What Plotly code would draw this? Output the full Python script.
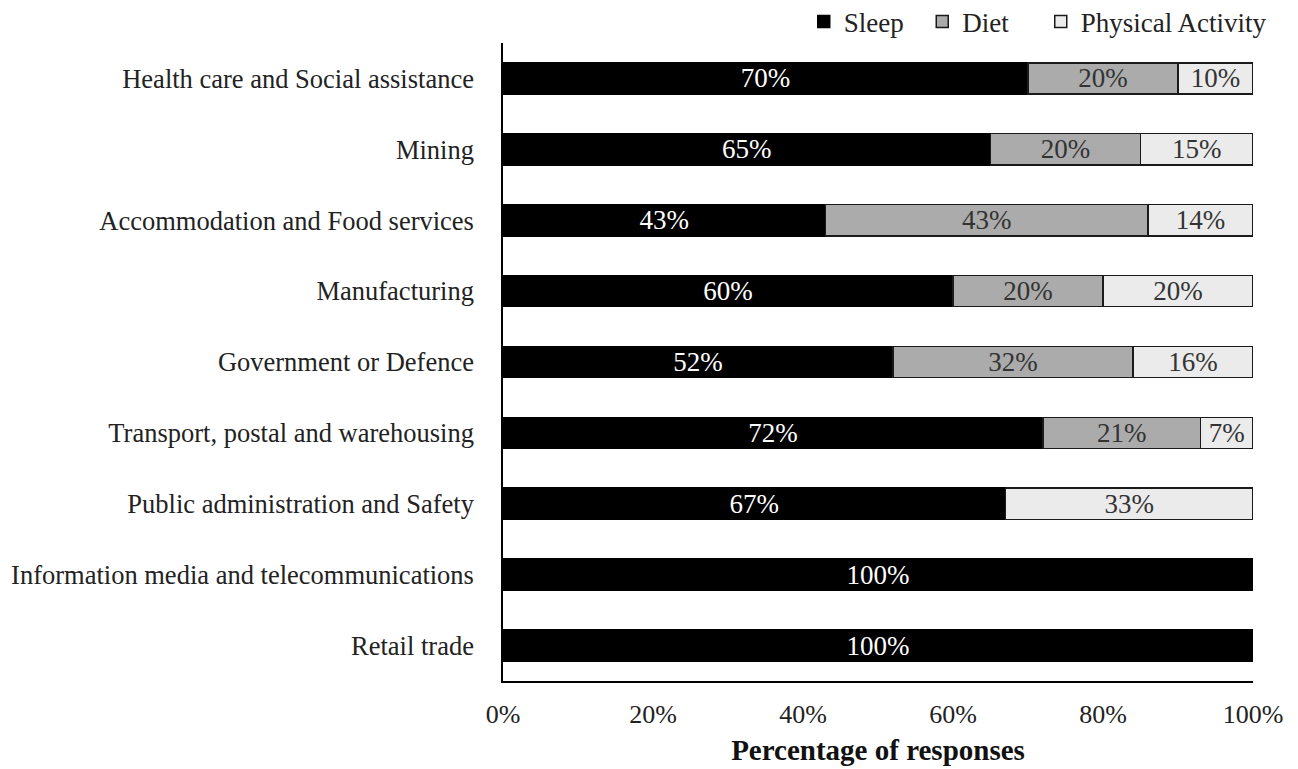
import plotly.graph_objects as go

# Industries, listed top to bottom
categories = [
    "Health care and Social assistance",
    "Mining",
    "Accommodation and Food services",
    "Manufacturing",
    "Government or Defence",
    "Transport, postal and warehousing",
    "Public administration and Safety",
    "Information media and telecommunications",
    "Retail trade",
]

# Share of responses (%) per health topic
sleep = [70, 65, 43, 60, 52, 72, 67, 100, 100]
diet = [20, 20, 43, 20, 32, 21, 0, 0, 0]
physical_activity = [10, 15, 14, 20, 16, 7, 33, 0, 0]

tick_vals = [0, 20, 40, 60, 80, 100]
tick_text = ["0%", "20%", "40%", "60%", "80%", "100%"]

FONT = "Liberation Serif, Times New Roman, serif"
NBSP = "\u00a0"


def seg(vals):
    return [v if v else None for v in vals]


def labels(vals):
    return [f"{v}%" if v else "" for v in vals]


fig = go.Figure()

# (legend name, values, fill, outline, label colour); trailing no-break
# spaces widen the gap between legend entries
series = [
    ("Sleep" + NBSP * 2, sleep, "#000000", "#000000", "#ffffff"),
    ("Diet" + NBSP * 4, diet, "#ababab", "#1a1a1a", "#333333"),
    ("Physical Activity", physical_activity, "#ebebeb", "#1a1a1a", "#333333"),
]

for name, vals, fill, edge, txt in series:
    fig.add_trace(
        go.Bar(
            name=name,
            y=categories,
            x=seg(vals),
            orientation="h",
            marker=dict(color=fill, line=dict(color=edge, width=1.5)),
            text=labels(vals),
            textposition="inside",
            insidetextanchor="middle",
            textangle=0,
            constraintext="none",
            textfont=dict(family=FONT, size=27, color=txt),
            hoverinfo="skip",
        )
    )

fig.update_layout(
    barmode="stack",
    bargap=0.56,
    width=1298,
    height=769,
    margin=dict(l=503, r=45, t=43, b=88, autoexpand=False),
    paper_bgcolor="white",
    plot_bgcolor="white",
    font=dict(family=FONT, size=26, color="#222222"),
    uniformtext=dict(mode=False),
    legend=dict(
        orientation="h",
        x=1.025,
        xanchor="right",
        y=1.033,
        yanchor="middle",
        font=dict(family=FONT, size=27, color="#222222"),
        itemwidth=30,
        traceorder="normal",
        bgcolor="rgba(0,0,0,0)",
    ),
    xaxis=dict(
        range=[0, 100],
        tickvals=tick_vals,
        ticktext=tick_text,
        showgrid=False,
        zeroline=False,
        showline=True,
        linecolor="#000000",
        linewidth=1.5,
        ticks="",
        ticklabelstandoff=9,
        tickfont=dict(family=FONT, size=26, color="#222222"),
        title=dict(
            text="<b>Percentage of responses</b>",
            font=dict(family=FONT, size=29, color="#111111"),
            standoff=12,
        ),
        fixedrange=True,
    ),
    yaxis=dict(
        autorange="reversed",
        showgrid=False,
        zeroline=False,
        showline=True,
        linecolor="#000000",
        linewidth=1.5,
        ticks="",
        ticklabelstandoff=22,
        tickfont=dict(family=FONT, size=26.5, color="#222222"),
        fixedrange=True,
    ),
)

fig.write_html("out.html")
